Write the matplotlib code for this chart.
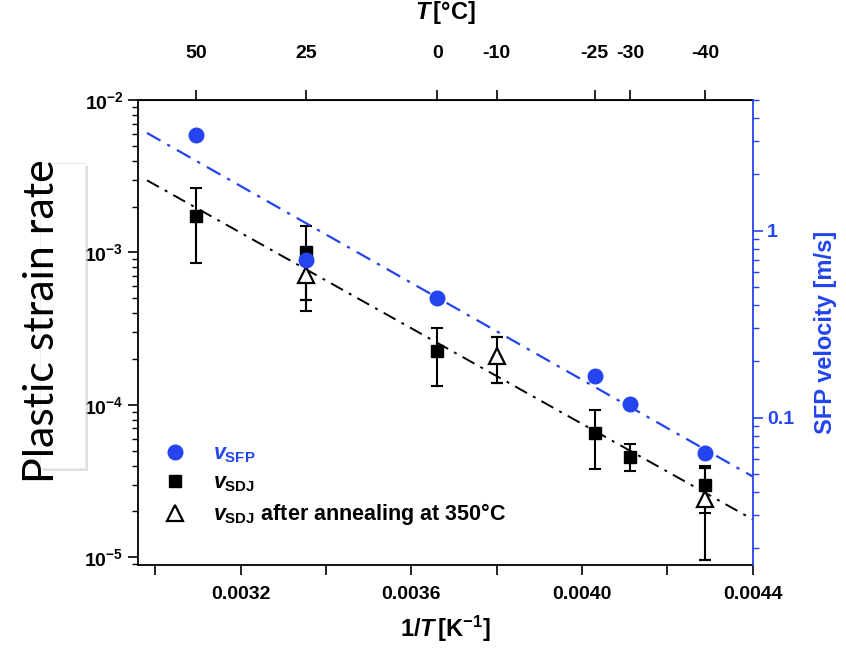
import numpy as np
import matplotlib
matplotlib.use('Agg')
import matplotlib.pyplot as plt
from matplotlib.lines import Line2D
from matplotlib.patches import Rectangle
from matplotlib.ticker import FixedLocator, MultipleLocator, LogLocator, FuncFormatter, NullFormatter

plt.rcParams['font.family'] = ['Liberation Sans', 'DejaVu Sans']
plt.rcParams['font.weight'] = 'bold'
plt.rcParams['axes.labelweight'] = 'bold'
plt.rcParams['mathtext.fontset'] = 'custom'
plt.rcParams['mathtext.rm'] = 'Liberation Sans:bold'
plt.rcParams['mathtext.bf'] = 'Liberation Sans:bold'
plt.rcParams['mathtext.it'] = 'Liberation Sans:bold:italic'

BLUE = '#2344ee'

# SFP velocity [m/s] vs temperature [degC]
temp_sfp = [50, 25, 0, -25, -30, -40]
v_sfp = [3.25, 0.70, 0.437, 0.168, 0.118, 0.065]

# SDJ plastic strain rate with error bounds
temp_sdj = [50, 25, 0, -25, -30, -40]
rate_sdj = [1.74e-3, 1.01e-3, 2.25e-4, 6.5e-5, 4.55e-5, 2.96e-5]
rate_sdj_lo = [8.5e-4, 4.14e-4, 1.32e-4, 3.78e-5, 3.66e-5, 1.95e-5]
rate_sdj_hi = [2.63e-3, 1.50e-3, 3.17e-4, 9.23e-5, 5.57e-5, 3.95e-5]

# SDJ after annealing at 350 degC
temp_ann = [25, -10, -40]
rate_ann = [7.1e-4, 2.09e-4, 2.43e-5]
rate_ann_lo = [4.91e-4, 1.39e-4, 9.6e-6]
rate_ann_hi = [1.0e-3, 2.77e-4, 3.85e-5]

top_ticks_c = [50, 25, 0, -10, -25, -30, -40]


def inv_t(t_c):
    return 1.0 / (np.asarray(t_c, dtype=float) + 273.15)


fig = plt.figure(figsize=(8.46, 6.49), dpi=100)
W, H = 846, 649
ax = fig.add_axes([138 / W, 1 - 565 / H, 614.5 / W, 465 / H])

x_sdj = inv_t(temp_sdj)
x_ann = inv_t(temp_ann)
x_sfp = inv_t(temp_sfp)
x_fit = np.array([0.00298, 0.0044])

# Arrhenius fits (log10 vs 1/T)
p_sdj = np.polyfit(x_sdj, np.log10(rate_sdj), 1)
p_sfp = np.polyfit(x_sfp, np.log10(v_sfp), 1)

dash = (0, (7, 3.5, 1.5, 3.5))
ax.plot(x_fit, 10 ** np.polyval(p_sdj, x_fit), color='k', ls=dash, lw=1.4, zorder=1)

r = np.array(rate_sdj)
ax.errorbar(x_sdj, r, yerr=[r - np.array(rate_sdj_lo), np.array(rate_sdj_hi) - r],
            fmt='s', color='k', ms=9, capsize=4, elinewidth=1.5, capthick=1.5, zorder=3)
ra = np.array(rate_ann)
ax.errorbar(x_ann, ra, yerr=[ra - np.array(rate_ann_lo), np.array(rate_ann_hi) - ra],
            fmt='^', color='k', mfc='white', mec='k', mew=1.6, ms=11, capsize=4,
            elinewidth=1.5, capthick=1.5, zorder=4)

ax.set_xlim(0.002959, 0.0044)
ax.set_yscale('log')
ax.set_ylim(8.9e-6, 1e-2)

ax.xaxis.set_major_locator(MultipleLocator(0.0004))
ax.xaxis.set_minor_locator(MultipleLocator(0.0002))
ax.xaxis.set_major_formatter(FuncFormatter(lambda v, p: '%.4f' % v))
ax.yaxis.set_major_locator(LogLocator(base=10))
ax.yaxis.set_minor_locator(LogLocator(base=10, subs=np.arange(2, 10)))
ax.yaxis.set_major_formatter(FuncFormatter(lambda v, p: r'$\mathbf{10^{%d}}$' % round(np.log10(v))))
ax.yaxis.set_minor_formatter(NullFormatter())
ax.tick_params(axis='x', which='both', direction='out', length=7, width=1.2, labelsize=14, pad=8)
ax.tick_params(axis='y', which='major', direction='out', length=7, width=1.2, labelsize=14)
ax.tick_params(axis='y', which='minor', direction='out', length=4, width=1.0)
ax.set_xlabel(r'1/$T\,$[K$^{-1}$]', fontsize=17, labelpad=8)
ax.spines['right'].set_visible(False)
for s in ['left', 'bottom', 'top']:
    ax.spines[s].set_linewidth(1.3)

# right axis: SFP velocity
ax2 = ax.twinx()
ax2.plot(x_fit, 10 ** np.polyval(p_sfp, x_fit), color=BLUE, ls=dash, lw=1.6, zorder=2)
ax2.plot(x_sfp, v_sfp, 'o', color=BLUE, ms=10.5, zorder=5)
ax2.set_yscale('log')
ax2.set_ylim(0.0163, 5)
ax2.yaxis.set_major_locator(FixedLocator([0.1, 1]))
ax2.yaxis.set_minor_locator(LogLocator(base=10, subs=np.arange(2, 10)))
ax2.yaxis.set_major_formatter(FuncFormatter(lambda v, p: '%g' % v))
ax2.yaxis.set_minor_formatter(NullFormatter())
ax2.tick_params(axis='y', which='major', direction='out', length=7, width=1.2,
                colors=BLUE, labelsize=14)
ax2.tick_params(axis='y', which='minor', direction='out', length=4, width=1.0, colors=BLUE)
ax2.set_ylabel('SFP velocity [m/s]', color=BLUE, fontsize=17, labelpad=14)
for s in ['left', 'bottom', 'top']:
    ax2.spines[s].set_visible(False)
ax2.spines['right'].set_color(BLUE)
ax2.spines['right'].set_linewidth(1.3)

# top axis: temperature in degC
top = ax.secondary_xaxis('top')
top.set_xticks(inv_t(top_ticks_c))
top.set_xticklabels([str(t) for t in top_ticks_c])
top.tick_params(direction='out', length=7, width=1.2, labelsize=14, pad=20)
top.xaxis.set_minor_locator(FixedLocator([]))
top.set_xlabel(r'$T\,$[°C]', fontsize=17, labelpad=19)

# legend
handles = [
    Line2D([], [], ls='none', marker='o', color=BLUE, ms=10.5),
    Line2D([], [], ls='none', marker='s', color='k', ms=9),
    Line2D([], [], ls='none', marker='^', mfc='white', mec='k', mew=1.6, ms=11),
]
labels = [r'$v_{\mathrm{SFP}}$', r'$v_{\mathrm{SDJ}}$', r'$v_{\mathrm{SDJ}}$ after annealing at 350°C']
leg = ax2.legend(handles, labels, loc='upper left', bbox_to_anchor=(0.04, 0.262),
                 frameon=False, fontsize=15.5, handlelength=1.12, handletextpad=1.2,
                 labelspacing=0.35, borderpad=0, borderaxespad=0)
leg.get_texts()[0].set_color(BLUE)

# overlaid slide label box
fig.patches.append(Rectangle((43 / W, 1 - 471 / H), 45 / W, 305 / H, transform=fig.transFigure,
                             facecolor='#c8c8c8', edgecolor='none', alpha=0.6, zorder=0))
fig.patches.append(Rectangle((40 / W, 1 - 468 / H), 45 / W, 305 / H, transform=fig.transFigure,
                             facecolor='white', edgecolor='#eeeeee', lw=0.8, zorder=1))
fig.text(42 / W, 1 - 321 / H, 'Plastic strain rate', family=['Lato', 'DejaVu Sans'],
         fontweight='normal', fontsize=31, rotation=90, ha='center', va='center', zorder=2)

fig.savefig('out.png', dpi=100)
